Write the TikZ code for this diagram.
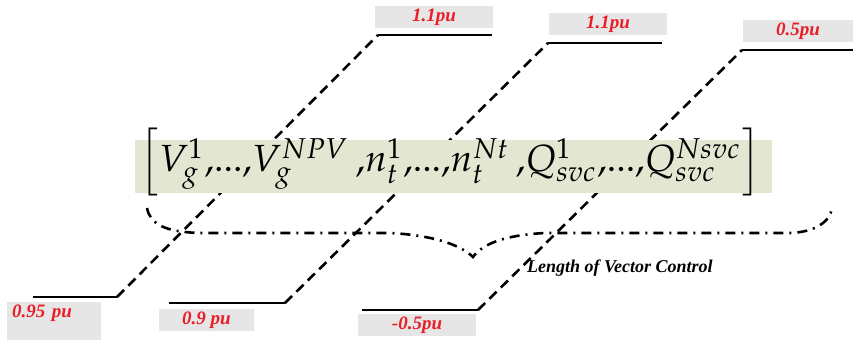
\documentclass[tikz,border=0pt]{standalone}
\usepackage{mathpazo}
\usepackage{fontspec}
\usepackage{graphicx}
\newfontfamily\labelfont{Liberation Serif}
\definecolor{boxgray}{RGB}{230,230,230}
\definecolor{boxgreen}{RGB}{227,231,210}
\definecolor{labelred}{RGB}{232,30,40}

\begin{document}
\begin{tikzpicture}[x=1pt,y=-1pt,
  level/.style={line width=2.6pt},
  ramp/.style={line width=2.6pt, dash pattern=on 10pt off 6pt},
  puval/.style={fill=boxgray, text=labelred, inner sep=0pt,
    font=\labelfont\bfseries\itshape\fontsize{19}{21}\selectfont,
    minimum width=118pt, minimum height=22pt}]
  \useasboundingbox (0,0) rectangle (853,341);

  % generator voltages
  \coordinate (va) at (33,297);
  \coordinate (vb) at (117,297);
  \coordinate (vc) at (378,35);
  \coordinate (vd) at (492,35);
  \draw[level] (va)--(vb);
  \draw[ramp] (vb)--(vc);
  \draw[level] (vc)--(vd);

  % transformer taps
  \coordinate (ta) at (169,303);
  \coordinate (tb) at (285,303);
  \coordinate (tc) at (548,43);
  \coordinate (td) at (662,43);
  \draw[level] (ta)--(tb);
  \draw[ramp] (tb)--(tc);
  \draw[level] (tc)--(td);

  % svc outputs
  \coordinate (qa) at (362,310);
  \coordinate (qb) at (478,310);
  \coordinate (qc) at (742,50);
  \coordinate (qd) at (853,50);
  \draw[level] (qa)--(qb);
  \draw[ramp] (qb)--(qc);
  \draw[level] (qc)--(qd);

  % limits
  \node[puval, anchor=north west, minimum width=94pt, minimum height=38pt,
    inner xsep=5pt, text width=84pt, align=left, text height=15pt, text depth=23pt]
    (vmin) at (7,302) {0.95 pu};
  \node[puval] (vmax) at (434,17) {1.1pu};
  \node[puval, minimum width=95pt] (tmin) at (206.5,320) {0.9 pu};
  \node[puval] (tmax) at (608,24) {1.1pu};
  \node[puval] (qmin) at (417,325) {-0.5pu};
  \node[puval, minimum width=110pt] (qmax) at (798,31) {0.5pu};

  % control vector
  \fill[boxgreen] (135,140) rectangle (772,193);
  \node[anchor=west, inner sep=0pt] (vec) at (140,162.5)
    {\resizebox{620pt}{!}{$\left[V_g^1{,}...{,}V_g^{NPV}\,{,}n_t^1{,}...{,}n_t^{Nt}\,{,}Q_{svc}^1{,}...{,}Q_{svc}^{Nsvc}\right]$}};

  % brace
  \draw[line width=2.6pt, dash pattern=on 10pt off 6pt on 2pt off 6pt]
    (147,208) .. controls (150,224) and (165,232) .. (200,233) -- (390,233)
    .. controls (430,235) and (460,244) .. (473,257)
    .. controls (482,244) and (505,235) .. (545,233) -- (790,233)
    .. controls (815,232) and (830,222) .. (832,208);
  \node[anchor=west, inner sep=0pt, font=\labelfont\bfseries\itshape\fontsize{18}{20}\selectfont]
    (len) at (527,268) {Length of Vector Control};
\end{tikzpicture}
\end{document}
